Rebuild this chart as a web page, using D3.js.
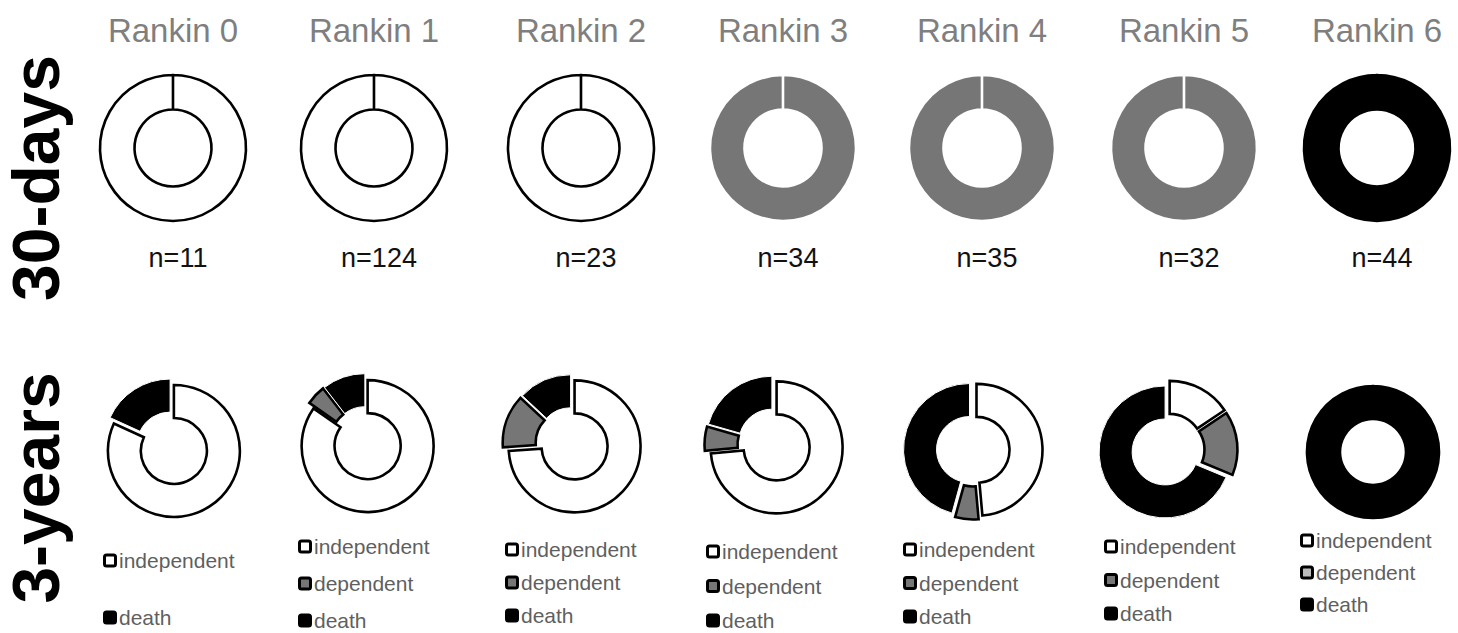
<!DOCTYPE html>
<html>
<head>
<meta charset="utf-8">
<script src="https://cdn.jsdelivr.net/npm/d3@7"></script>
<style>
  html, body { margin: 0; padding: 0; background: #fff; }
  svg { display: block; }
  text { font-family: "Liberation Sans", Arial, sans-serif; }
</style>
</head>
<body>
<svg id="chart" width="1458" height="633"></svg>
<script>
// ---------- data ----------
const rankinLabels = ["Rankin 0", "Rankin 1", "Rankin 2", "Rankin 3", "Rankin 4", "Rankin 5", "Rankin 6"];
const nCounts = [11, 124, 23, 34, 35, 32, 44];
const categories = ["independent", "dependent", "death"];
const rowLabels = ["30-days", "3-years"];

const day30Independent = [11, 124, 23, 0, 0, 0, 0];
const day30Dependent   = [0, 0, 0, 34, 35, 32, 0];
const day30Death       = [0, 0, 0, 0, 0, 0, 44];

const year3Independent = [9, 105, 17, 25, 17, 5, 0];
const year3Dependent   = [0, 6, 3, 2, 2, 5, 0];
const year3Death       = [2, 13, 3, 7, 16, 22, 44];

const legendItems = [
  ["independent", null, "death"],
  ["independent", "dependent", "death"],
  ["independent", "dependent", "death"],
  ["independent", "dependent", "death"],
  ["independent", "dependent", "death"],
  ["independent", "dependent", "death"],
  ["independent", "dependent", "death"]
];

// ---------- layout ----------
const colCenters = [173, 374, 581, 783, 982, 1184, 1377];
const year3CenterX = [172, 366, 572, 774, 973, 1168, 1373];
const year3CenterY = [448, 443, 444, 445, 450, 450, 452];
const legendLeft = [103, 298, 505, 706, 903, 1104, 1300];
const legendTop  = [561, 547, 550, 552, 550, 547, 541];
const legendStep = [28.5, 37, 33, 34.5, 33.5, 33.5, 32];

const fillColor = d3.scaleOrdinal().domain(categories).range(["#ffffff", "#767676", "#000000"]);

const svg = d3.select("#chart");

// titles
svg.selectAll("text.title").data(rankinLabels).join("text")
  .attr("class", "title")
  .attr("x", (d, i) => colCenters[i])
  .attr("y", 42)
  .attr("text-anchor", "middle")
  .attr("font-size", 33)
  .attr("fill", "#7f7f7f")
  .text(d => d);

// row labels
const rowY = [178, 488];
svg.selectAll("text.row").data(rowLabels).join("text")
  .attr("class", "row")
  .attr("transform", (d, i) => `translate(59,${rowY[i]}) rotate(-90)`)
  .attr("text-anchor", "middle")
  .attr("font-size", 66)
  .attr("font-weight", "bold")
  .attr("fill", "#000")
  .text(d => d);

// n labels
svg.selectAll("text.n").data(nCounts).join("text")
  .attr("class", "n")
  .attr("x", (d, i) => colCenters[i] + 5)
  .attr("y", 267)
  .attr("text-anchor", "middle")
  .attr("font-size", 27)
  .attr("fill", "#111")
  .text(d => "n=" + d);

const pie = d3.pie().sort(null).value(d => d.value);

function drawDonut(g, values, outerR, innerR, isDay30, explode) {
  const data = categories.map((c, k) => ({ cat: c, value: values[k] })).filter(d => d.value > 0);
  let arcsData = pie(data);
  const single = arcsData.length === 1;
  if (single) {
    arcsData = arcsData.map(a => Object.assign({}, a, { startAngle: 0, endAngle: 2 * Math.PI - 0.0005 }));
  }
  const arc = d3.arc().innerRadius(innerR).outerRadius(outerR);
  g.selectAll("path").data(arcsData).join("path")
    .attr("d", arc)
    .attr("transform", d => {
      if (single || !explode) return null;
      const m = (d.startAngle + d.endAngle) / 2;
      return `translate(${Math.sin(m) * explode},${-Math.cos(m) * explode})`;
    })
    .attr("fill", d => fillColor(d.data.cat))
    .attr("stroke", d => {
      if (d.data.cat === "independent") return "#000";
      if (d.data.cat === "dependent") return isDay30 ? "#fff" : "#000";
      return (isDay30 || single) ? "#000" : "#fff";
    })
    .attr("stroke-width", d => (d.data.cat === "death" && !isDay30 && !single) ? 1 : 2.6)
    .attr("stroke-linejoin", "miter");
}

// 30-days row
rankinLabels.forEach((r, i) => {
  const g = svg.append("g").attr("transform", `translate(${colCenters[i]},148)`);
  drawDonut(g, [day30Independent[i], day30Dependent[i], day30Death[i]], 73, 38.5, true, 0);
});

// 3-years row
rankinLabels.forEach((r, i) => {
  const g = svg.append("g").attr("transform", `translate(${year3CenterX[i]},${year3CenterY[i]})`);
  drawDonut(g, [year3Independent[i], year3Dependent[i], year3Death[i]], 66, 33, false, 3.5);
});

// legends
rankinLabels.forEach((r, i) => {
  const lg = svg.append("g").attr("transform", `translate(${legendLeft[i]},${legendTop[i]})`);
  legendItems[i].forEach((cat, k) => {
    if (!cat) return;
    const item = lg.append("g").attr("transform", `translate(0,${k * legendStep[i]})`);
    item.append("rect")
      .attr("x", 1.5).attr("y", -6)
      .attr("width", 11).attr("height", 11)
      .attr("rx", 2)
      .attr("fill", (i === 6 && cat === "dependent") ? "#bdbdbd" : fillColor(cat))
      .attr("stroke", "#000").attr("stroke-width", 3);
    item.append("text")
      .attr("x", 16).attr("y", 0)
      .attr("dy", "0.35em")
      .attr("font-size", 21)
      .attr("fill", "#5f5f5f")
      .text(cat);
  });
});
</script>
</body>
</html>
